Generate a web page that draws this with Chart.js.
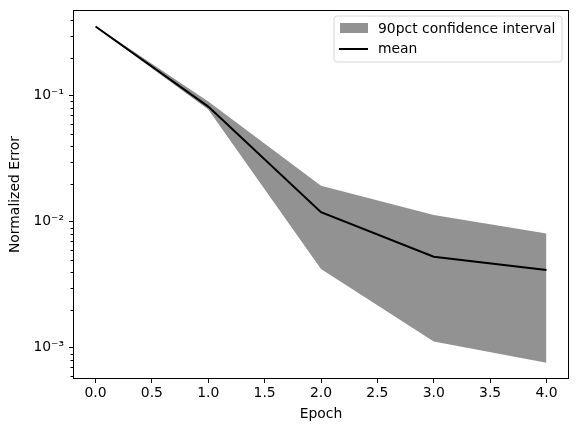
<!DOCTYPE html>
<html>
<head>
<meta charset="utf-8">
<script src="https://cdn.jsdelivr.net/npm/chart.js@4"></script>
<style>
  html, body { margin: 0; padding: 0; background: #fff; }
  #wrap { width: 578px; height: 432px; }
</style>
</head>
<body>
<div id="wrap"><canvas id="chart-area" width="578" height="432"></canvas></div>
<script>
var epochs = [0, 1, 2, 3, 4];
var meanErr = [0.354, 0.082, 0.0119, 0.00528, 0.00414];
var upperErr = [0.357, 0.090, 0.0193, 0.0113, 0.00808];
var lowerErr = [0.351, 0.0779, 0.00422, 0.00112, 0.00076];
var xTicks = [0, 0.5, 1, 1.5, 2, 2.5, 3, 3.5, 4];
var bandLabel = '90pct confidence interval';
var meanLabel = 'mean';

var FONT = 'DejaVu Sans';
var FS = 13.9;
var sup = { '-': '\u207b', '0': '\u2070', '1': '\u00b9', '2': '\u00b2', '3': '\u00b3', '4': '\u2074', '5': '\u2075', '6': '\u2076', '7': '\u2077', '8': '\u2078', '9': '\u2079' };
function powLabel(v) {
  var e = String(Math.round(Math.log10(v)));
  return '10' + e.split('').map(function (c) { return sup[c]; }).join('');
}
function isMajor(v) {
  var l = Math.log10(v);
  return Math.abs(l - Math.round(l)) < 1e-9;
}

function pts(ys) {
  return epochs.map(function (x, i) { return { x: x, y: ys[i] }; });
}

// frame, minor ticks and legend, drawn the matplotlib way
var extras = {
  id: 'extras',
  afterDraw: function (chart) {
    var c = chart.ctx, a = chart.chartArea, ys = chart.scales.y;
    c.save();
    c.strokeStyle = '#000';
    c.lineWidth = 1;
    ys.ticks.forEach(function (t) {
      if (isMajor(t.value)) return;
      var py = Math.round(ys.getPixelForValue(t.value)) + 0.5;
      c.beginPath();
      c.moveTo(a.left - 2.5, py);
      c.lineTo(a.left, py);
      c.stroke();
    });
    c.strokeRect(Math.round(a.left) + 0.5, Math.round(a.top) + 0.5,
      Math.round(a.right - a.left) - 1, Math.round(a.bottom - a.top) - 1);

    // legend
    var lx = 334, ly = 16, lw = 228, lh = 46, r = 3;
    c.beginPath();
    c.moveTo(lx + r, ly);
    c.arcTo(lx + lw, ly, lx + lw, ly + lh, r);
    c.arcTo(lx + lw, ly + lh, lx, ly + lh, r);
    c.arcTo(lx, ly + lh, lx, ly, r);
    c.arcTo(lx, ly, lx + lw, ly, r);
    c.closePath();
    c.fillStyle = 'rgba(255,255,255,0.8)';
    c.fill();
    c.strokeStyle = '#d6d6d6';
    c.stroke();
    c.fillStyle = '#929292';
    c.fillRect(340, 23, 28, 10);
    c.strokeStyle = '#000';
    c.lineWidth = 2;
    c.beginPath();
    c.moveTo(339, 49);
    c.lineTo(368, 49);
    c.stroke();
    c.fillStyle = '#000';
    c.font = FS + 'px "' + FONT + '"';
    c.textBaseline = 'middle';
    c.fillText(bandLabel, 378, 29);
    c.fillText(meanLabel, 378, 49);
    c.restore();
  }
};

var config = {
  type: 'line',
  data: {
    datasets: [
      {
        label: 'upper',
        data: pts(upperErr),
        borderWidth: 0,
        borderColor: 'rgba(0,0,0,0)',
        backgroundColor: '#929292',
        pointRadius: 0,
        fill: '+1',
        tension: 0,
        order: 2
      },
      {
        label: 'lower',
        data: pts(lowerErr),
        borderWidth: 0,
        borderColor: 'rgba(0,0,0,0)',
        pointRadius: 0,
        fill: false,
        tension: 0,
        order: 2
      },
      {
        label: meanLabel,
        data: pts(meanErr),
        borderColor: '#000',
        borderWidth: 2,
        pointRadius: 0,
        fill: false,
        tension: 0,
        order: 0
      }
    ]
  },
  options: {
    responsive: false,
    animation: false,
    layout: { padding: { top: 10, right: 9, left: 0, bottom: 0 } },
    plugins: {
      legend: { display: false },
      tooltip: { enabled: false }
    },
    scales: {
      x: {
        type: 'linear',
        min: -0.2,
        max: 4.2,
        afterBuildTicks: function (s) {
          s.ticks = xTicks.map(function (v) { return { value: v }; });
        },
        afterFit: function (s) {
          s.height = 53;
          s.paddingLeft = 0;
          s.paddingRight = 0;
        },
        ticks: {
          color: '#000',
          font: { family: FONT, size: FS },
          padding: 2,
          maxRotation: 0,
          callback: function (v) { return Number(v).toFixed(1); }
        },
        grid: { drawOnChartArea: false, tickLength: 4, color: '#000' },
        border: { display: false },
        title: {
          display: true,
          text: 'Epoch',
          color: '#000',
          font: { family: FONT, size: FS },
          padding: { top: 0, bottom: 9 }
        }
      },
      y: {
        type: 'logarithmic',
        min: 5.65e-4,
        max: 0.479,
        afterBuildTicks: function (s) {
          var t = [];
          for (var k = -4; k <= 0; k++) {
            for (var m = 1; m <= 9; m++) {
              var v = m * Math.pow(10, k);
              if (v >= s.min && v <= s.max) t.push({ value: v });
            }
          }
          s.ticks = t;
        },
        afterFit: function (s) {
          s.width = 73;
          s.paddingTop = 0;
          s.paddingBottom = 0;
        },
        ticks: {
          color: '#000',
          font: { family: FONT, size: FS },
          padding: 5,
          autoSkip: false,
          callback: function (v) { return isMajor(v) ? powLabel(v) : ''; }
        },
        grid: {
          drawOnChartArea: false,
          tickLength: 4,
          color: '#000',
          tickColor: function (ctx) {
            return ctx.tick && isMajor(ctx.tick.value) ? '#000' : 'rgba(0,0,0,0)';
          }
        },
        border: { display: false },
        title: {
          display: true,
          text: 'Normalized Error',
          color: '#000',
          font: { family: FONT, size: FS },
          padding: { top: 7, bottom: 0 }
        }
      }
    }
  },
  plugins: [extras]
};

window.onload = function () {
  var ctx = document.getElementById('chart-area').getContext('2d');
  window.myChart = new Chart(ctx, config);
};
</script>
</body>
</html>
